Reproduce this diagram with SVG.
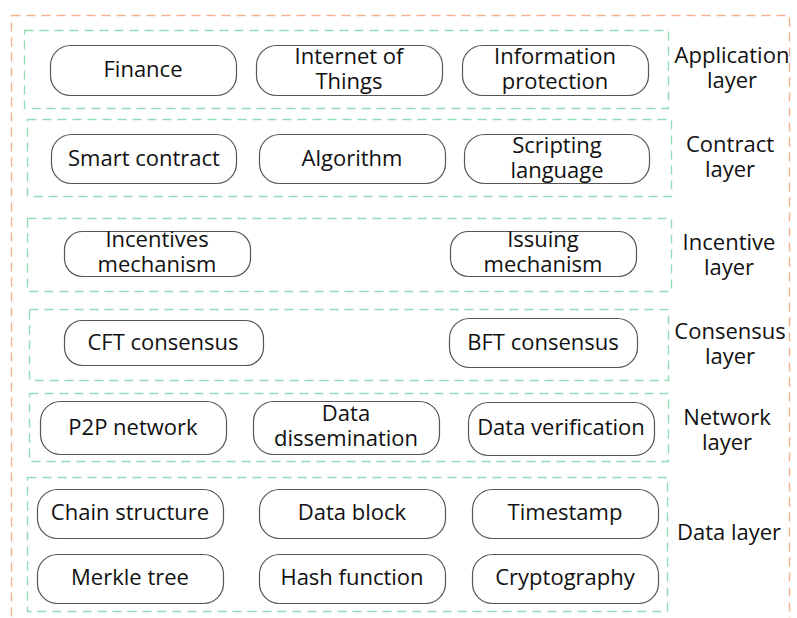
<svg xmlns="http://www.w3.org/2000/svg" width="797" height="618" viewBox="0 0 797 618">
<style>
.outer{fill:none;stroke:#f2b48e;stroke-width:1.4;stroke-dasharray:9 6}
.layer{fill:none;stroke:#94dcb6;stroke-width:1.4;stroke-dasharray:9 6}
.node rect{fill:#fff;stroke:#555;stroke-width:1.2}
text{font-family:"Open Sans","Noto Sans",sans-serif;font-size:22px;fill:#111;text-anchor:middle}
.lbl{font-size:22px}
</style>
<rect width="797" height="618" fill="#fff"/>
<rect class="outer" x="11.5" y="15.5" width="778" height="640"/>
<g id="layers">
<rect class="layer" x="24.5" y="30.5" width="644" height="78"/>
<rect class="layer" x="27.5" y="119.5" width="644" height="77"/>
<rect class="layer" x="27.5" y="218.5" width="644" height="73"/>
<rect class="layer" x="29.5" y="309.5" width="639" height="71"/>
<rect class="layer" x="29.5" y="393.5" width="639" height="68"/>
<rect class="layer" x="27.5" y="477.5" width="640" height="134"/>
</g>
<g id="labels">
<text class="lbl" x="732" y="63">Application</text><text class="lbl" x="732" y="88">layer</text>
<text class="lbl" x="730" y="152">Contract</text><text class="lbl" x="730" y="177">layer</text>
<text class="lbl" x="729" y="250">Incentive</text><text class="lbl" x="729" y="275">layer</text>
<text class="lbl" x="730" y="339">Consensus</text><text class="lbl" x="730" y="364">layer</text>
<text class="lbl" x="727" y="425">Network</text><text class="lbl" x="727" y="450">layer</text>
<text class="lbl" x="729" y="540">Data layer</text>
</g>
<g id="n-finance" class="node"><rect x="50.5" y="45.5" width="186" height="50" rx="20"/><text x="143" y="77">Finance</text></g>
<g id="n-iot" class="node"><rect x="256.5" y="45.5" width="186" height="50" rx="20"/><text x="349" y="64">Internet of</text><text x="349" y="89">Things</text></g>
<g id="n-info" class="node"><rect x="462.5" y="45.5" width="186" height="50" rx="20"/><text x="555" y="64">Information</text><text x="555" y="89">protection</text></g>
<g id="n-smart" class="node"><rect x="51.5" y="134.5" width="185" height="49" rx="20"/><text x="144" y="166">Smart contract</text></g>
<g id="n-algo" class="node"><rect x="259.5" y="134.5" width="186" height="49" rx="20"/><text x="352" y="166">Algorithm</text></g>
<g id="n-script" class="node"><rect x="464.5" y="134.5" width="185" height="49" rx="20"/><text x="557" y="153">Scripting</text><text x="557" y="178">language</text></g>
<g id="n-incent" class="node"><rect x="64.5" y="231.5" width="186" height="45" rx="18"/><text x="157" y="247">Incentives</text><text x="157" y="272">mechanism</text></g>
<g id="n-issue" class="node"><rect x="450.5" y="231.5" width="186" height="45" rx="18"/><text x="543" y="247">Issuing</text><text x="543" y="272">mechanism</text></g>
<g id="n-cft" class="node"><rect x="64.5" y="320.5" width="199" height="45" rx="18"/><text x="163" y="350">CFT consensus</text></g>
<g id="n-bft" class="node"><rect x="449.5" y="318.5" width="188" height="49" rx="20"/><text x="543" y="350">BFT consensus</text></g>
<g id="n-p2p" class="node"><rect x="40.5" y="401.5" width="186" height="53" rx="20"/><text x="133" y="435">P2P network</text></g>
<g id="n-dissem" class="node"><rect x="253.5" y="401.5" width="186" height="53" rx="20"/><text x="346" y="421">Data</text><text x="346" y="446">dissemination</text></g>
<g id="n-verif" class="node"><rect x="468.5" y="402.5" width="186" height="53" rx="20"/><text x="561" y="435">Data verification</text></g>
<g id="n-chain" class="node"><rect x="37.5" y="489.5" width="186" height="49" rx="20"/><text x="130" y="520">Chain structure</text></g>
<g id="n-block" class="node"><rect x="259.5" y="489.5" width="186" height="49" rx="20"/><text x="352" y="520">Data block</text></g>
<g id="n-time" class="node"><rect x="472.5" y="489.5" width="186" height="49" rx="20"/><text x="565" y="520">Timestamp</text></g>
<g id="n-merkle" class="node"><rect x="37.5" y="554.5" width="186" height="49" rx="20"/><text x="130" y="585">Merkle tree</text></g>
<g id="n-hash" class="node"><rect x="259.5" y="554.5" width="186" height="49" rx="20"/><text x="352" y="585">Hash function</text></g>
<g id="n-crypto" class="node"><rect x="472.5" y="554.5" width="186" height="49" rx="20"/><text x="565" y="585">Cryptography</text></g>
<g id="connectors"/>
</svg>
